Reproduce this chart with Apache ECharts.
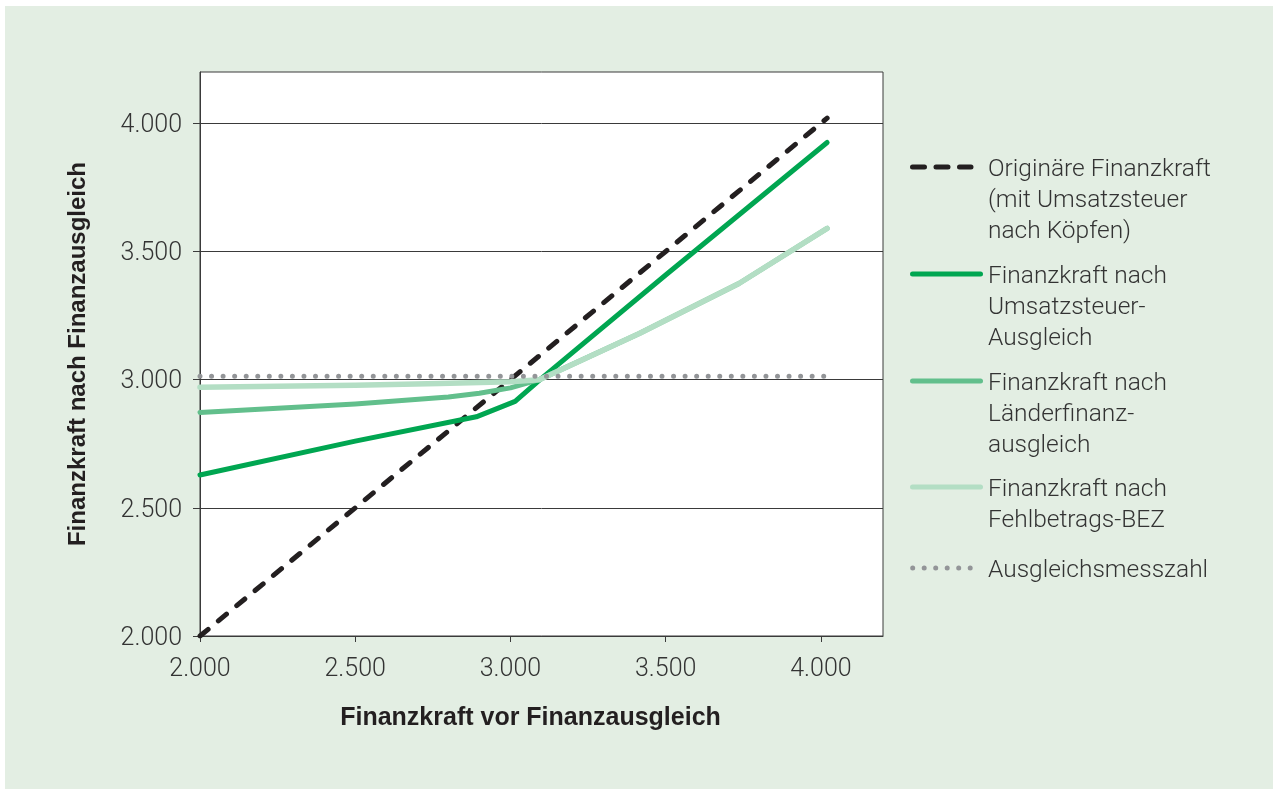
<!DOCTYPE html>
<html>
<head>
<meta charset="utf-8">
<script src="https://cdn.jsdelivr.net/npm/echarts@6/dist/echarts.min.js"></script>
<style>
  html, body { margin: 0; padding: 0; background: #ffffff; }
  #bg { position: absolute; left: 5px; top: 6px; width: 1268px; height: 783px; background: #e3eee3; }
  #chart { position: absolute; left: 0; top: 0; width: 1278px; height: 794px; }
</style>
</head>
<body>
<div id="bg"></div>
<div id="chart"></div>
<script>
// ---- data ----
const tickValues = [2000, 2500, 3000, 3500, 4000];

const origX = [2000, 4020];
const origY = [2000, 4020];

const ustX = [2000, 2500, 2890, 3015, 3100, 3500, 4020];
const ustY = [2628, 2760, 2855, 2915, 3005, 3408, 3925];

const lfaX = [2000, 2500, 2800, 2900, 3000, 3093, 3415, 3736, 4020];
const lfaY = [2872, 2905, 2932, 2947, 2968, 3000, 3180, 3375, 3590];

const bezX = [2000, 2500, 2772, 3000, 3093, 3415, 3736, 4020];
const bezY = [2970, 2978, 2985, 2992, 3000, 3180, 3375, 3590];

const amzX = [2000, 4010];
const amzY = [3013, 3013];

const seriesNames = [
  'Originäre Finanzkraft\n(mit Umsatzsteuer\nnach Köpfen)',
  'Finanzkraft nach\nUmsatzsteuer-\nAusgleich',
  'Finanzkraft nach\nLänderfinanz-\nausgleich',
  'Finanzkraft nach\nFehlbetrags-BEZ',
  'Ausgleichsmesszahl'
];
const xTitle = 'Finanzkraft vor Finanzausgleich';
const yTitle = 'Finanzkraft nach Finanzausgleich';

// ---- helpers ----
function pairs(xs, ys) { return xs.map((x, i) => [x, ys[i]]); }
function fmtNum(v) {
  if (v % 500 !== 0) return '';
  const s = String(Math.round(v));
  return s.replace(/\B(?=(\d{3})+(?!\d))/g, '.');
}
function fmtY(v) {
  const s = fmtNum(v);
  return s ? '{t|' + s + '}' : '';
}

const C_DASH = '#231f20';
const C_DARK = '#00a651';
const C_MED = '#62bf8c';
const C_LIGHT = '#b3dec4';
const C_DOT = '#939598';
const TXT = '#333333';
const LIGHT_FONT = 'Roboto';

const chart = echarts.init(document.getElementById('chart'), null, { renderer: 'canvas' });

// legend drawn as graphic so that icons align with first text line
const legendRows = [
  { y: 167, kind: 'dash', color: C_DASH },
  { y: 274, kind: 'solid', color: C_DARK },
  { y: 381, kind: 'solid', color: C_MED },
  { y: 487, kind: 'solid', color: C_LIGHT },
  { y: 568, kind: 'dot', color: C_DOT }
];
const graphics = [];
legendRows.forEach((r, i) => {
  let shape, style;
  if (r.kind === 'dash') {
    shape = { x1: 912.5, y1: r.y, x2: 971, y2: r.y };
    style = { stroke: r.color, lineWidth: 5, lineCap: 'round', lineDash: [12, 11.5] };
  } else if (r.kind === 'dot') {
    shape = { x1: 912.7, y1: r.y, x2: 970.5, y2: r.y };
    style = { stroke: r.color, lineWidth: 5, lineCap: 'round', lineDash: [0, 11.5] };
  } else {
    shape = { x1: 912.5, y1: r.y, x2: 980.5, y2: r.y };
    style = { stroke: r.color, lineWidth: 5, lineCap: 'round' };
  }
  graphics.push({ type: 'line', shape: shape, style: style, silent: true });
  graphics.push({
    type: 'text', left: 988, top: r.y - 13, silent: true,
    style: {
      text: seriesNames[i], fill: TXT, fontFamily: LIGHT_FONT, fontWeight: 300,
      fontSize: 24.5, lineHeight: 31, verticalAlign: 'top'
    }
  });
});

const option = {
  animation: false,
  backgroundColor: 'transparent',
  grid: {
    left: 200, top: 72, right: 395, bottom: 158,
    show: true, backgroundColor: '#ffffff', borderColor: '#3a3a3a', borderWidth: 1
  },
  xAxis: {
    type: 'value', min: 2000, max: 4200, interval: 500,
    name: xTitle, nameLocation: 'middle', nameGap: 70,
    nameTextStyle: { fontFamily: 'Liberation Sans', fontWeight: 'bold', fontSize: 25, color: '#231f20', padding: [0, 22, 0, 0] },
    axisLine: { show: true, lineStyle: { color: '#3a3a3a', width: 1 } },
    axisTick: { show: true, length: 6, inside: false, lineStyle: { color: '#3a3a3a' }, customValues: tickValues },
    axisLabel: { show: true, margin: 21, formatter: fmtNum, customValues: tickValues,
      fontFamily: LIGHT_FONT, fontWeight: 300, fontSize: 25, color: TXT },
    splitLine: { show: false }
  },
  yAxis: {
    type: 'value', min: 2000, max: 4200, interval: 500,
    name: yTitle, nameLocation: 'middle', nameGap: 110, nameRotate: 90,
    nameTextStyle: { fontFamily: 'Liberation Sans', fontWeight: 'bold', fontSize: 24, color: '#231f20' },
    axisLine: { show: true, lineStyle: { color: '#3a3a3a', width: 1 } },
    axisTick: { show: true, length: 7, inside: false, lineStyle: { color: '#3a3a3a' }, customValues: tickValues },
    axisLabel: { show: true, margin: 18, formatter: fmtY, customValues: tickValues,
      fontFamily: LIGHT_FONT, fontWeight: 300, fontSize: 25, color: TXT,
      rich: { t: { fontFamily: LIGHT_FONT, fontWeight: 300, fontSize: 25, color: TXT, padding: [5, 0, 0, 0] } } },
    splitLine: { show: true, lineStyle: { color: '#3a3a3a', width: 1 } }
  },
  series: [
    {
      name: seriesNames[0], type: 'line', data: pairs(origX, origY), symbol: 'none',
      lineStyle: { color: C_DASH, width: 5, type: [10.5, 13.3], cap: 'round' }, z: 2
    },
    {
      name: seriesNames[1], type: 'line', data: pairs(ustX, ustY), symbol: 'none',
      lineStyle: { color: C_DARK, width: 5, cap: 'round', join: 'round' }, z: 3
    },
    {
      name: seriesNames[2], type: 'line', data: pairs(lfaX, lfaY), symbol: 'none',
      lineStyle: { color: C_MED, width: 5, cap: 'round', join: 'round' }, z: 3
    },
    {
      name: seriesNames[3], type: 'line', data: pairs(bezX, bezY), symbol: 'none',
      lineStyle: { color: C_LIGHT, width: 5.5, cap: 'round', join: 'round' }, z: 3
    },
    {
      name: seriesNames[4], type: 'line', data: pairs(amzX, amzY), symbol: 'none',
      lineStyle: { color: C_DOT, width: 5, type: [0, 11.55], cap: 'round' }, z: 4
    }
  ],
  graphic: graphics
};
chart.setOption(option);
</script>
</body>
</html>
